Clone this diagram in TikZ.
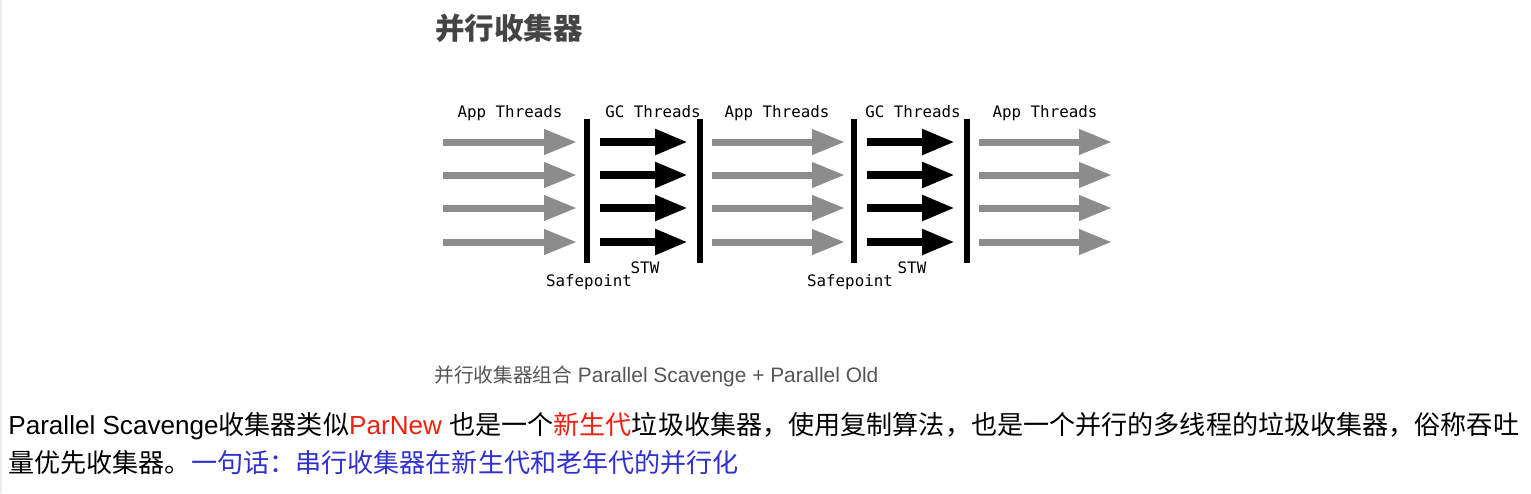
\documentclass[tikz,border=0pt]{standalone}
\usepackage{fontspec}
\setmainfont{Liberation Sans}
\newfontfamily\cjk{Noto Sans CJK SC}
\newfontfamily\gcmono{DejaVu Sans Mono}
\usetikzlibrary{arrows.meta}
\definecolor{appgray}{HTML}{8C8C8C}
\definecolor{titlegray}{HTML}{444444}
\definecolor{capgray}{HTML}{555555}
\definecolor{hlred}{HTML}{F02010}
\definecolor{hlblue}{HTML}{3030D0}

\begin{document}
\begin{tikzpicture}[
  apparr/.style={appgray, line width=0.14cm,
                 -{Triangle[length=0.66cm, width=0.48cm]}},
  gcarr/.style={black, line width=0.16cm,
                -{Triangle[length=0.66cm, width=0.48cm]}},
  bar/.style={fill=black, inner sep=0, minimum width=0.13cm,
              minimum height=2.88cm},
  lbl/.style={font=\gcmono\fontsize{9}{10}\selectfont, anchor=base, inner sep=0},
  body/.style={font=\fontsize{14.85}{17}\selectfont, anchor=base west, inner sep=0},
]
\useasboundingbox (0,0) rectangle (30.62,-9.86);
\draw[black!8, line width=0.04cm] (0.02,0) -- (0.02,-9.86);

% ---- Title ----
\node[anchor=base west, inner sep=0, text=titlegray,
      font=\cjk\bfseries\fontsize{16.8}{18}\selectfont] (title) at (8.70,-0.78)
  {并行收集器};

% ---- Safepoint bars ----
\node[bar] (sp1)  at (11.74,-3.82) {};
\node[bar] (end1) at (14.00,-3.82) {};
\node[bar] (sp2)  at (17.08,-3.82) {};
\node[bar] (end2) at (19.34,-3.82) {};

% ---- Threads ----
\foreach \y in {-2.84,-3.50,-4.16,-4.84} {
  \draw[apparr] (8.86,\y)  -- (11.54,\y);
  \draw[gcarr]  (12.00,\y) -- (13.76,\y);
  \draw[apparr] (14.24,\y) -- (16.90,\y);
  \draw[gcarr]  (17.34,\y) -- (19.10,\y);
  \draw[apparr] (19.58,\y) -- (22.24,\y);
}

% ---- Labels ----
\node[lbl] (app1) at (10.20,-2.34) {App Threads};
\node[lbl] (gc1)  at (13.06,-2.34) {GC Threads};
\node[lbl] (app2) at (15.54,-2.34) {App Threads};
\node[lbl] (gc2)  at (18.26,-2.34) {GC Threads};
\node[lbl] (app3) at (20.90,-2.34) {App Threads};

\node[lbl] (safe1) at (11.78,-5.72) {Safepoint};
\node[lbl] (stw1)  at (12.90,-5.46) {STW};
\node[lbl] (safe2) at (17.00,-5.72) {Safepoint};
\node[lbl] (stw2)  at (18.24,-5.46) {STW};

% ---- Caption ----
\node[anchor=base west, inner sep=0, text=capgray,
      font=\fontsize{11.9}{13}\selectfont] (cap) at (8.68,-7.64)
  {{\cjk\fontsize{11.2}{13}\selectfont 并行收集器组合} Parallel Scavenge + Parallel Old};

% ---- Text ----
\node[body] (line1) at (0.16,-8.68)
  {Parallel Scavenge{\cjk 收集器类似}{\color{hlred}ParNew} {\cjk 也是一个{\color{hlred}新生代}垃圾收集器，使用复制算法，也是一个并行的多线程的垃圾收集器，俗称吞吐}};
\node[body] (line2) at (0.16,-9.44)
  {\cjk 量优先收集器。{\color{hlblue}一句话：串行收集器在新生代和老年代的并行化}};

\end{tikzpicture}
\end{document}
